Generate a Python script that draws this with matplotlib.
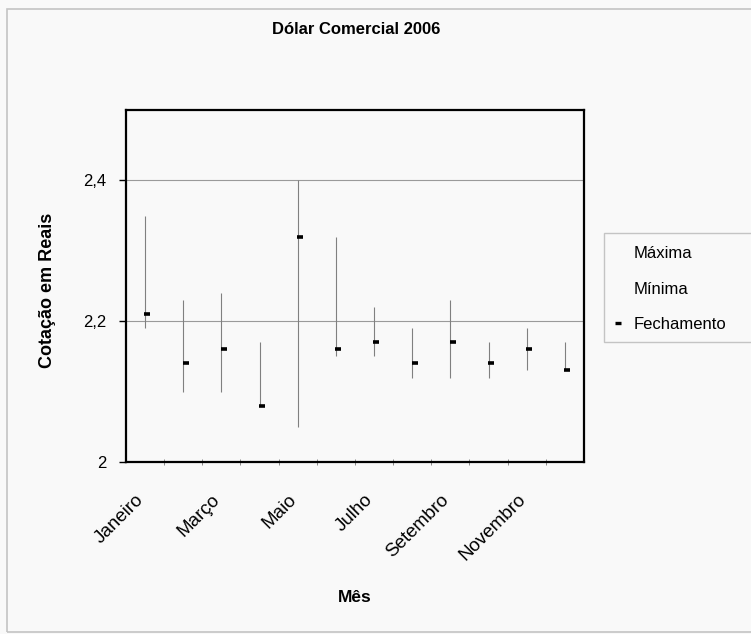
import matplotlib.pyplot as plt
from matplotlib.patches import Rectangle
from matplotlib.lines import Line2D
from matplotlib.ticker import FixedLocator, FuncFormatter
from matplotlib.transforms import ScaledTranslation

plt.rcParams['font.family'] = ['Liberation Sans', 'DejaVu Sans']

meses = ['Janeiro', 'Fevereiro', 'Março', 'Abril', 'Maio', 'Junho',
         'Julho', 'Agosto', 'Setembro', 'Outubro', 'Novembro', 'Dezembro']
maxima = [2.35, 2.23, 2.24, 2.17, 2.40, 2.32, 2.22, 2.19, 2.23, 2.17, 2.19, 2.17]
minima = [2.19, 2.10, 2.10, 2.08, 2.05, 2.15, 2.15, 2.12, 2.12, 2.12, 2.13, 2.13]
fechamento = [2.21, 2.14, 2.16, 2.08, 2.32, 2.16, 2.17, 2.14, 2.17, 2.14, 2.16, 2.13]

fundo = '#f9f9f9'
borda = '#c4c4c4'
fig = plt.figure(figsize=(7.51, 6.34), dpi=100, facecolor=fundo)
W, H = 751, 634

# moldura cinza da área do gráfico
fig.patches.append(Rectangle((7 / W, 1 - 632 / H), 760 / W, (632 - 9) / H,
                             transform=fig.transFigure, fill=False,
                             edgecolor=borda, lw=1.2))

ax = fig.add_axes([126 / W, 1 - 462 / H, (584 - 126) / W, (462 - 110) / H])
ax.set_facecolor(fundo)

x = list(range(len(meses)))
ax.vlines(x, minima, maxima, colors='#808080', lw=0.8, zorder=3)
ax.plot([i + 0.06 for i in x], fechamento, ls='none', marker='_',
        ms=4.5, mew=2.6, color='black', zorder=4)

ax.set_xlim(-0.5, len(meses) - 0.5)
ax.set_ylim(2.0, 2.5)

ax.yaxis.set_major_locator(FixedLocator([2.0, 2.2, 2.4]))
ax.yaxis.set_major_formatter(FuncFormatter(lambda v, p: f'{v:g}'.replace('.', ',')))
ax.tick_params(axis='y', direction='out', length=5, width=1, pad=9, labelsize=12)
for v in (2.2, 2.4):
    ax.axhline(v, color='#9a9a9a', lw=0.8, zorder=1)

ax.set_xticks(x[::2])
ax.set_xticklabels(meses[::2], rotation=45, ha='right', rotation_mode='anchor',
                   fontsize=13.5)
ax.tick_params(axis='x', length=0, pad=21)
desloc = ScaledTranslation(-7 / 72, 0, fig.dpi_scale_trans)
for rot in ax.get_xticklabels():
    rot.set_transform(rot.get_transform() + desloc)
ax.set_xticks([i - 0.5 for i in range(1, len(meses))], minor=True)
ax.tick_params(axis='x', which='minor', direction='inout', length=4, width=0.6,
               color='#777777')

for lado in ax.spines.values():
    lado.set_linewidth(1.6)
    lado.set_color('black')

fig.text(356 / W, 1 - 30 / H, 'Dólar Comercial 2006', ha='center', va='center',
         fontsize=12, fontweight='bold')
fig.text(355 / W, 1 - 597 / H, 'Mês', ha='center', va='center',
         fontsize=12.5, fontweight='bold')
fig.text(48 / W, 1 - 290 / H, 'Cotação em Reais', ha='center', va='center',
         rotation=90, fontsize=13, fontweight='bold')

# legenda com moldura que passa da borda direita
fig.patches.append(Rectangle((604 / W, 1 - 342 / H), 200 / W, (342 - 233) / H,
                             transform=fig.transFigure, facecolor=fundo,
                             edgecolor=borda, lw=1.0))
itens = [
    Line2D([], [], ls='none', marker=''),
    Line2D([], [], ls='none', marker=''),
    Line2D([], [], ls='none', marker='_', ms=4, mew=2.4, color='black'),
]
fig.legend(itens, ['Máxima', 'Mínima', 'Fechamento'],
           loc='upper left', bbox_to_anchor=(604 / W, 1 - 233 / H),
           fontsize=12, frameon=False, borderpad=0.8,
           handlelength=0.1, handletextpad=0.88, labelspacing=1.22,
           borderaxespad=0)

fig.savefig('out.png', dpi=100, facecolor=fundo)
